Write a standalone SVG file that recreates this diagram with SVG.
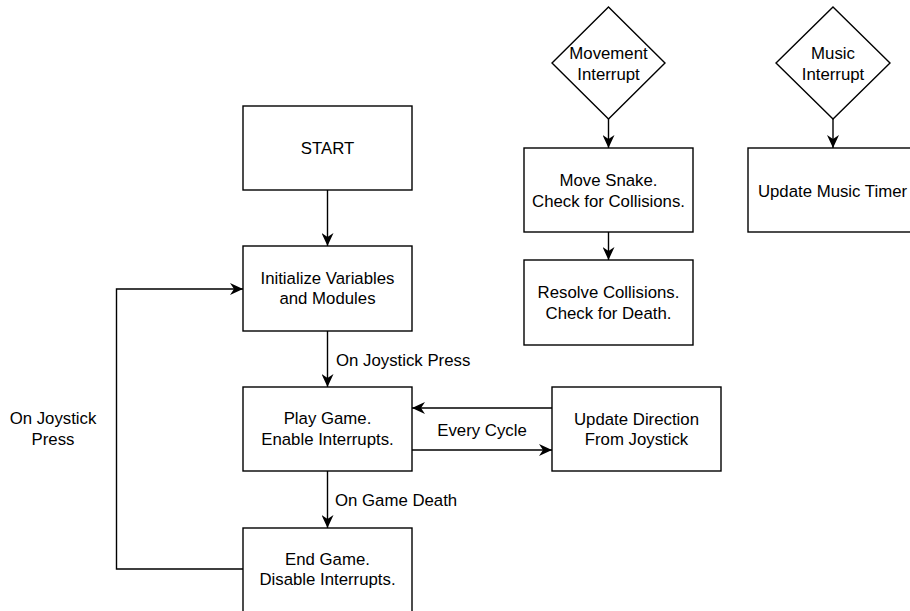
<svg xmlns="http://www.w3.org/2000/svg" width="910" height="611" viewBox="0 0 910 611">
<style>
.box{fill:#fff;stroke:#000;stroke-width:1.4}
.t{font-family:"Liberation Sans",Arial,sans-serif;font-size:16.8px;fill:#000;text-anchor:middle}
.ts{font-family:"Liberation Sans",Arial,sans-serif;font-size:16.8px;fill:#000;text-anchor:start}
.c{fill:none;stroke:#000;stroke-width:1.4}
</style>
<defs>
<marker id="arr" markerUnits="userSpaceOnUse" markerWidth="14" markerHeight="12" viewBox="0 0 14 12" refX="13" refY="6" orient="auto">
<path d="M0,0 L13,6 L0,12 L4,6 z" fill="#000"/>
</marker>
</defs>
<rect width="910" height="611" fill="#fff"/>
<g id="connectors">
<path class="c" d="M327.5,190 L327.5,246" marker-end="url(#arr)"/>
<path class="c" d="M327.5,331 L327.5,387" marker-end="url(#arr)"/>
<path class="c" d="M327.5,471 L327.5,528" marker-end="url(#arr)"/>
<path class="c" d="M243,569 L116.5,569 L116.5,289 L243,289" marker-end="url(#arr)"/>
<path class="c" d="M552,408 L412,408" marker-end="url(#arr)"/>
<path class="c" d="M412,450 L552,450" marker-end="url(#arr)"/>
<path class="c" d="M608.5,119 L608.5,148" marker-end="url(#arr)"/>
<path class="c" d="M608.5,232 L608.5,260" marker-end="url(#arr)"/>
<path class="c" d="M833,119 L833,148" marker-end="url(#arr)"/>
<text class="ts" x="336" y="366">On Joystick Press</text>
<text class="ts" x="335" y="506">On Game Death</text>
<text class="t" x="482" y="436">Every Cycle</text>
<text class="t" x="53" y="424">On Joystick</text>
<text class="t" x="53" y="445">Press</text>
</g>
<g id="start">
<rect class="box" x="243" y="106" width="169" height="84"/>
<text class="t" x="327.5" y="154">START</text>
</g>
<g id="init">
<rect class="box" x="243" y="246" width="169" height="85"/>
<text class="t" x="327.5" y="284">Initialize Variables</text>
<text class="t" x="327.5" y="304">and Modules</text>
</g>
<g id="play">
<rect class="box" x="243" y="387" width="169" height="84"/>
<text class="t" x="327.5" y="424">Play Game.</text>
<text class="t" x="327.5" y="445">Enable Interrupts.</text>
</g>
<g id="end">
<rect class="box" x="243" y="528" width="169" height="85"/>
<text class="t" x="327.5" y="565">End Game.</text>
<text class="t" x="327.5" y="585">Disable Interrupts.</text>
</g>
<g id="update-direction">
<rect class="box" x="552" y="387" width="169" height="84"/>
<text class="t" x="636.5" y="425">Update Direction</text>
<text class="t" x="636.5" y="445">From Joystick</text>
</g>
<g id="movement-interrupt">
<polygon class="box" points="608.5,7 665,63 608.5,119 552,63"/>
<text class="t" x="608.5" y="59">Movement</text>
<text class="t" x="608.5" y="80">Interrupt</text>
</g>
<g id="move-snake">
<rect class="box" x="524" y="148" width="169" height="84"/>
<text class="t" x="608.5" y="186">Move Snake.</text>
<text class="t" x="608.5" y="207">Check for Collisions.</text>
</g>
<g id="resolve">
<rect class="box" x="524" y="260" width="169" height="85"/>
<text class="t" x="608.5" y="298">Resolve Collisions.</text>
<text class="t" x="608.5" y="319">Check for Death.</text>
</g>
<g id="music-interrupt">
<polygon class="box" points="833,7 890,63 833,119 776,63"/>
<text class="t" x="833" y="59">Music</text>
<text class="t" x="833" y="80">Interrupt</text>
</g>
<g id="music-timer">
<rect class="box" x="748" y="148" width="169" height="84"/>
<text class="t" x="832.5" y="197">Update Music Timer</text>
</g>
</svg>
